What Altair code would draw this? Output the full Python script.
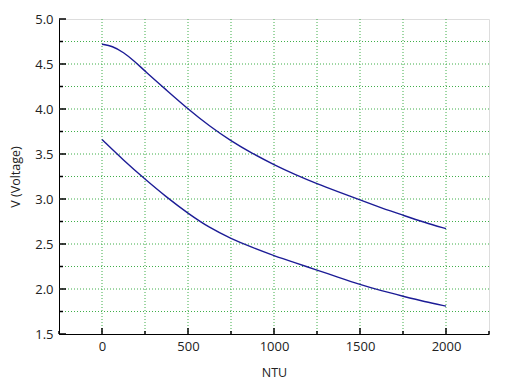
import altair as alt
import pandas as pd

ntu_upper = [0, 60, 125, 190, 250, 375, 500, 625, 750, 875, 1000, 1125, 1250, 1375, 1500, 1625, 1750, 1875, 2000]
upper = [4.72, 4.70, 4.63, 4.53, 4.42, 4.21, 4.00, 3.81, 3.645, 3.505, 3.38, 3.27, 3.17, 3.08, 2.99, 2.90, 2.82, 2.74, 2.67]
ntu_lower = [0, 125, 250, 375, 500, 625, 750, 875, 1000, 1125, 1250, 1375, 1500, 1625, 1750, 1875, 2000]
lower = [3.66, 3.43, 3.22, 3.02, 2.84, 2.68, 2.56, 2.46, 2.37, 2.29, 2.21, 2.13, 2.05, 1.98, 1.92, 1.86, 1.81]

x_major = [0, 500, 1000, 1500, 2000]
x_minor = [-250, 250, 750, 1250, 1750, 2250]
y_major = [1.5, 2.0, 2.5, 3.0, 3.5, 4.0, 4.5, 5.0]
y_minor = [1.75, 2.25, 2.75, 3.25, 3.75, 4.25, 4.75]

df = pd.DataFrame({
    "NTU": ntu_upper + ntu_lower,
    "V": upper + lower,
    "series": ["upper"] * len(ntu_upper) + ["lower"] * len(ntu_lower),
})

W, H = 430, 315
FONT = "Open Sans"
GRID = "#3fae49"

xs = alt.Scale(domain=[-250, 2250], nice=False, zero=False)
ys = alt.Scale(domain=[1.5, 5.0], nice=False, zero=False)

xgrid = [v for v in sorted(x_major + x_minor) if -250 < v < 2250]
ygrid = [v for v in sorted(y_major + y_minor) if 1.5 < v < 5.0]

xaxis = alt.Axis(values=x_major, title="NTU", grid=False, ticks=False, format="d",
                 labelFont=FONT, labelFontSize=13, labelColor="#222", labelPadding=6,
                 titleFont=FONT, titleFontSize=12.5, titleFontWeight="normal", titleColor="#222",
                 titlePadding=13, domainColor="#000", labelFlush=False)
yaxis = alt.Axis(values=y_major, title="V (Voltage)", grid=False, ticks=False, format=".1f",
                 labelFont=FONT, labelFontSize=13, labelColor="#222", labelPadding=6,
                 titleFont=FONT, titleFontSize=12.5, titleFontWeight="normal", titleColor="#222",
                 titlePadding=12, domainColor="#000", labelFlush=False)

vgrid = alt.Chart(pd.DataFrame({"x": xgrid})).mark_rule(
    color=GRID, strokeDash=[1, 2], strokeWidth=1).encode(
    x=alt.X("x:Q", scale=xs, axis=xaxis))
hgrid = alt.Chart(pd.DataFrame({"y": ygrid})).mark_rule(
    color=GRID, strokeDash=[1, 2], strokeWidth=1).encode(
    y=alt.Y("y:Q", scale=ys, axis=yaxis))

xt_major = alt.Chart(pd.DataFrame({"x": x_major})).mark_rule(color="#000", strokeWidth=1.5).encode(
    x=alt.X("x:Q", scale=xs), y=alt.value(H), y2=alt.value(H - 6))
xt_minor = alt.Chart(pd.DataFrame({"x": x_minor})).mark_rule(color="#000", strokeWidth=1.5).encode(
    x=alt.X("x:Q", scale=xs), y=alt.value(H), y2=alt.value(H - 3))
yt_major = alt.Chart(pd.DataFrame({"y": y_major})).mark_rule(color="#000", strokeWidth=1.5).encode(
    y=alt.Y("y:Q", scale=ys), x=alt.value(0), x2=alt.value(7))
yt_minor = alt.Chart(pd.DataFrame({"y": y_minor})).mark_rule(color="#000", strokeWidth=1.5).encode(
    y=alt.Y("y:Q", scale=ys), x=alt.value(0), x2=alt.value(4))

lines = alt.Chart(df).mark_line(color="#1c1c96", strokeWidth=1.4, interpolate="basis").encode(
    x=alt.X("NTU:Q", scale=xs),
    y=alt.Y("V:Q", scale=ys),
    detail="series:N",
)

chart = alt.layer(vgrid, hgrid, lines, xt_major, xt_minor, yt_major, yt_minor).properties(
    width=W, height=H,
    autosize=alt.AutoSizeParams(type="none"),
    padding={"left": 51, "top": 11, "right": 22, "bottom": 50},
).configure_view(stroke="#000", strokeWidth=1).configure(background="#ffffff")

chart.save("out.html", embed_options={"renderer": "svg", "actions": False})
